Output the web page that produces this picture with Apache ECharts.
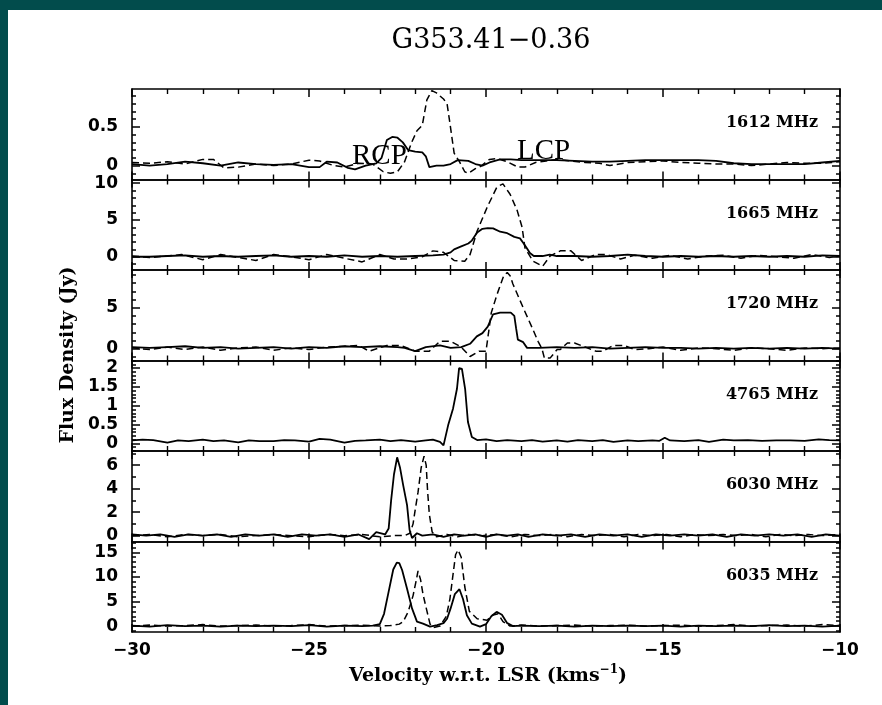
<!DOCTYPE html>
<html>
<head>
<meta charset="utf-8">
<title>G353.41-0.36</title>
<script src="https://cdn.jsdelivr.net/npm/echarts@6/dist/echarts.min.js"></script>
<style>
html, body { margin: 0; padding: 0; background: #fff; }
#chart { width: 882px; height: 705px; }
</style>
</head>
<body>
<div id="chart"></div>
<script>
// velocity (km/s), flux density (Jy)
var rcp1612 = [[-30,0.02],[-29.5,0.0],[-29,0.02],[-28.5,0.05],[-28,0.03],[-27.5,0.0],[-27,0.04],[-26.5,0.02],[-26,0.01],[-25.5,0.02],[-25,-0.02],[-24.7,-0.02],[-24.5,0.05],[-24.2,0.04],[-23.9,-0.03],[-23.7,-0.05],[-23.4,0.0],[-23.1,0.03],[-22.95,0.1],[-22.8,0.33],[-22.65,0.37],[-22.5,0.36],[-22.35,0.3],[-22.2,0.2],[-22.0,0.18],[-21.8,0.17],[-21.7,0.12],[-21.6,-0.02],[-21.4,0.0],[-21.2,0.0],[-21.0,0.02],[-20.8,0.07],[-20.5,0.06],[-20.3,0.02],[-20.1,0.0],[-19.9,0.04],[-19.6,0.08],[-19.3,0.08],[-19.0,0.07],[-18.5,0.07],[-18.0,0.07],[-17.5,0.06],[-17,0.05],[-16.5,0.05],[-16,0.06],[-15.5,0.07],[-15,0.07],[-14.5,0.07],[-14,0.07],[-13.5,0.06],[-13,0.03],[-12.5,0.02],[-12,0.02],[-11.5,0.02],[-11,0.02],[-10.5,0.04],[-10,0.06]];
var lcp1612 = [[-30,0.04],[-29.5,0.03],[-29,0.05],[-28.5,0.02],[-28,0.08],[-27.7,0.08],[-27.4,-0.03],[-27,-0.02],[-26.5,0.02],[-26,0.0],[-25.5,0.02],[-25,0.07],[-24.7,0.06],[-24.3,0.0],[-24,-0.02],[-23.6,0.03],[-23.2,0.02],[-22.9,-0.08],[-22.7,-0.1],[-22.5,-0.08],[-22.3,0.05],[-22.1,0.3],[-21.95,0.45],[-21.8,0.52],[-21.67,0.85],[-21.53,0.97],[-21.4,0.94],[-21.2,0.86],[-21.1,0.8],[-21.02,0.55],[-20.9,0.16],[-20.75,0.05],[-20.6,-0.08],[-20.5,-0.1],[-20.3,-0.04],[-20.15,-0.01],[-19.9,0.08],[-19.7,0.09],[-19.4,0.05],[-19.1,-0.02],[-18.9,-0.02],[-18.6,0.04],[-18.3,0.06],[-18,0.08],[-17.6,0.06],[-17.2,0.04],[-16.8,0.03],[-16.5,0.0],[-16,0.04],[-15.5,0.05],[-15,0.06],[-14.5,0.04],[-14,0.03],[-13.5,0.02],[-13,0.02],[-12.5,0.0],[-12,0.02],[-11.5,0.04],[-11,0.03],[-10.5,0.03],[-10,0.05]];

var rcp1665 = [[-30,0],[-29.5,0.0],[-29,0.1],[-28.5,0.2],[-28,0.0],[-27.5,0.1],[-27,0.0],[-26.5,0.1],[-26,0.2],[-25.5,0.0],[-25,0.1],[-24.5,0.0],[-24,0.2],[-23.5,0.0],[-23,0.1],[-22.5,0.0],[-22,0.1],[-21.5,0.2],[-21.2,0.3],[-21.0,0.6],[-20.9,1.0],[-20.7,1.4],[-20.5,1.8],[-20.4,2.2],[-20.25,3.3],[-20.1,3.8],[-19.95,3.9],[-19.8,3.85],[-19.6,3.4],[-19.4,3.2],[-19.2,2.7],[-19.04,2.5],[-18.95,1.9],[-18.85,1.2],[-18.76,0.5],[-18.65,0.1],[-18.4,0.1],[-18.2,0.3],[-18,0.1],[-17.5,0.1],[-17,0.0],[-16.5,0.1],[-16,0.3],[-15.5,0.1],[-15,0.0],[-14.5,0.1],[-14,0.0],[-13.5,0.1],[-13,0.0],[-12.5,0.1],[-12,0.0],[-11.5,0.1],[-11,0.0],[-10.5,0.2],[-10,0.1]];
var lcp1665 = [[-30,0.1],[-29.5,-0.1],[-29,0.1],[-28.6,0.3],[-28,-0.4],[-27.5,0.3],[-27,-0.1],[-26.5,-0.5],[-26,0.3],[-25.5,0.0],[-25,-0.4],[-24.5,0.3],[-24,-0.2],[-23.5,-0.7],[-23,0.3],[-22.6,-0.3],[-22.2,-0.3],[-21.8,0.0],[-21.5,0.8],[-21.2,0.6],[-20.9,-0.5],[-20.6,-0.6],[-20.45,0.3],[-20.25,3.5],[-19.97,6.7],[-19.69,9.5],[-19.52,9.9],[-19.32,8.5],[-19.12,6.3],[-18.98,4.0],[-18.9,1.2],[-18.67,-0.6],[-18.4,-1.3],[-18.19,0.1],[-17.9,0.8],[-17.6,0.8],[-17.3,-0.5],[-16.9,0.3],[-16.6,0.3],[-16.2,-0.3],[-15.8,0.2],[-15.3,-0.2],[-14.8,0.2],[-14.3,-0.3],[-13.8,0.1],[-13.3,0.2],[-12.8,-0.2],[-12.3,0.2],[-11.8,0.0],[-11.3,-0.2],[-10.8,0.3],[-10.3,-0.1],[-10,0.1]];

var rcp1720 = [[-30,0.2],[-29.5,0.1],[-29,0.2],[-28.5,0.3],[-28,0.1],[-27.5,0.2],[-27,0.0],[-26.5,0.1],[-26,0.2],[-25.5,0.0],[-25,0.2],[-24.5,0.1],[-24,0.3],[-23.5,0.2],[-23,0.3],[-22.5,0.2],[-22.3,0.1],[-22.0,-0.3],[-21.7,0.2],[-21.3,0.4],[-21.0,0.1],[-20.7,0.2],[-20.45,0.6],[-20.26,1.5],[-20.1,1.9],[-19.95,2.7],[-19.8,4.2],[-19.6,4.4],[-19.3,4.4],[-19.2,4.0],[-19.15,2.5],[-19.1,1.1],[-18.95,0.8],[-18.84,0.1],[-18.5,0.1],[-18.0,0.2],[-17.5,0.1],[-17.0,0.2],[-16.5,0.0],[-16.0,0.1],[-15.5,0.2],[-15,0.1],[-14.5,0.1],[-14,0.0],[-13.5,0.1],[-13,0.0],[-12.5,0.1],[-12,0.0],[-11.5,0.1],[-11,0.0],[-10.5,0.1],[-10,0.0]];
var lcp1720 = [[-30,0.1],[-29.5,-0.1],[-29,0.2],[-28.5,-0.1],[-28,0.2],[-27.5,-0.2],[-27,0.1],[-26.5,0.2],[-26,-0.2],[-25.5,0.1],[-25,-0.1],[-24.5,0.2],[-24,0.3],[-23.6,0.4],[-23.3,-0.3],[-22.8,0.4],[-22.4,0.4],[-22,-0.3],[-21.6,-0.3],[-21.3,0.9],[-21.0,0.9],[-20.7,0.2],[-20.45,-0.95],[-20.2,-0.3],[-20.0,-0.3],[-19.85,4.4],[-19.69,6.6],[-19.5,8.9],[-19.4,9.3],[-19.32,8.9],[-19.24,7.9],[-18.95,5.0],[-18.67,2.3],[-18.53,0.9],[-18.42,0.0],[-18.35,-1.15],[-18.19,-1.15],[-17.99,-0.1],[-17.9,-0.1],[-17.7,0.7],[-17.5,0.7],[-17.2,0.2],[-16.9,-0.3],[-16.7,-0.3],[-16.4,0.4],[-16.1,0.4],[-15.8,-0.1],[-15.4,0.0],[-15,0.2],[-14.5,-0.2],[-14,0.1],[-13.5,0.0],[-13,-0.2],[-12.5,0.1],[-12,0.0],[-11.5,-0.2],[-11,0.1],[-10.5,0.0],[-10,0.1]];

var rcp4765 = [[-30,0.08],[-29.7,0.1],[-29.4,0.09],[-29.0,0.02],[-28.7,0.08],[-28.4,0.06],[-28.0,0.1],[-27.7,0.06],[-27.4,0.08],[-27.0,0.03],[-26.7,0.08],[-26.4,0.06],[-26.0,0.06],[-25.7,0.09],[-25.4,0.08],[-25.0,0.05],[-24.7,0.12],[-24.4,0.1],[-24.0,0.02],[-23.7,0.07],[-23.4,0.08],[-23.0,0.1],[-22.7,0.06],[-22.4,0.09],[-22.0,0.05],[-21.7,0.08],[-21.5,0.1],[-21.3,0.04],[-21.2,-0.05],[-21.07,0.48],[-20.93,0.93],[-20.82,1.45],[-20.76,2.0],[-20.68,1.98],[-20.59,1.45],[-20.51,0.57],[-20.4,0.17],[-20.25,0.09],[-20,0.11],[-19.7,0.06],[-19.4,0.09],[-19.0,0.06],[-18.7,0.09],[-18.4,0.05],[-18.0,0.08],[-17.7,0.05],[-17.4,0.09],[-17.0,0.06],[-16.7,0.09],[-16.4,0.04],[-16.0,0.08],[-15.7,0.06],[-15.3,0.08],[-15.1,0.07],[-14.95,0.15],[-14.8,0.08],[-14.4,0.06],[-14.0,0.09],[-13.7,0.04],[-13.3,0.1],[-13.0,0.08],[-12.6,0.09],[-12.2,0.07],[-11.8,0.08],[-11.4,0.08],[-11.0,0.07],[-10.6,0.11],[-10.3,0.09],[-10,0.08]];

var rcp6030 = [[-30,0.1],[-29.6,0.0],[-29.2,0.1],[-28.8,-0.1],[-28.4,0.1],[-28,0.0],[-27.6,0.1],[-27.2,-0.1],[-26.8,0.1],[-26.4,0.0],[-26,0.1],[-25.6,-0.1],[-25.2,0.1],[-24.8,0.0],[-24.4,0.1],[-24,-0.1],[-23.6,0.1],[-23.3,-0.3],[-23.1,0.3],[-22.85,0.1],[-22.75,0.6],[-22.68,3.0],[-22.6,5.2],[-22.51,6.66],[-22.43,5.8],[-22.34,4.3],[-22.23,2.6],[-22.16,0.5],[-22.09,-0.2],[-21.95,0.2],[-21.8,0.0],[-21.5,0.1],[-21.2,-0.1],[-20.9,0.1],[-20.6,0.0],[-20.3,0.1],[-20,-0.1],[-19.7,0.1],[-19.4,0.0],[-19.1,0.1],[-18.8,-0.1],[-18.4,0.1],[-18,0.0],[-17.6,0.1],[-17.2,-0.1],[-16.8,0.1],[-16.4,0.0],[-16,0.1],[-15.6,-0.1],[-15.2,0.1],[-14.8,0.0],[-14.4,0.1],[-14,0.0],[-13.6,0.1],[-13.2,-0.1],[-12.8,0.1],[-12.4,0.0],[-12,0.1],[-11.6,0.0],[-11.2,0.1],[-10.8,-0.1],[-10.4,0.1],[-10,0.0]];
var lcp6030 = [[-30,0.0],[-29.5,0.1],[-29,-0.1],[-28.5,0.1],[-28,0.0],[-27.5,0.1],[-27,-0.1],[-26.5,0.0],[-26,0.1],[-25.5,0.0],[-25,-0.1],[-24.5,0.1],[-24,0.0],[-23.5,0.1],[-23,-0.1],[-22.6,0.0],[-22.3,0.0],[-22.15,0.2],[-22.06,1.0],[-22.0,2.2],[-21.92,3.7],[-21.83,5.8],[-21.75,6.75],[-21.69,6.0],[-21.65,3.8],[-21.6,1.8],[-21.52,0.3],[-21.4,-0.1],[-21.1,0.1],[-20.8,-0.1],[-20.5,0.1],[-20.1,0.0],[-19.7,0.1],[-19.3,-0.1],[-18.9,0.1],[-18.5,0.0],[-18.1,0.1],[-17.7,-0.1],[-17.3,0.1],[-16.9,0.0],[-16.5,0.1],[-16.1,-0.1],[-15.7,0.1],[-15.3,0.0],[-14.9,0.1],[-14.5,-0.1],[-14.1,0.1],[-13.7,0.0],[-13.3,0.1],[-12.9,0.0],[-12.5,0.1],[-12.1,-0.1],[-11.7,0.1],[-11.3,0.0],[-10.9,0.1],[-10.5,0.0],[-10,0.1]];

var rcp6035 = [[-30,0.1],[-29.5,-0.1],[-29,0.2],[-28.5,0.0],[-28,0.1],[-27.5,-0.1],[-27,0.1],[-26.5,0.0],[-26,0.1],[-25.5,0.0],[-25,0.2],[-24.5,-0.1],[-24,0.1],[-23.5,0.0],[-23.2,0.1],[-23.0,0.4],[-22.88,2.5],[-22.75,7.0],[-22.62,11.5],[-22.52,12.9],[-22.45,12.8],[-22.37,11.4],[-22.23,7.6],[-22.09,3.6],[-21.95,0.9],[-21.78,0.5],[-21.58,-0.1],[-21.38,0.2],[-21.2,0.6],[-21.1,1.5],[-21.0,3.6],[-20.88,6.5],[-20.75,7.5],[-20.65,5.5],[-20.54,2.2],[-20.4,0.5],[-20.17,-0.1],[-20.0,0.4],[-19.85,2.0],[-19.7,2.9],[-19.55,2.3],[-19.4,0.6],[-19.24,0.0],[-19,0.1],[-18.5,0.0],[-18,0.1],[-17.5,-0.1],[-17,0.1],[-16.5,0.0],[-16,0.1],[-15.5,0.0],[-15,0.1],[-14.5,-0.1],[-14,0.1],[-13.5,0.0],[-13,0.1],[-12.5,0.0],[-12,0.2],[-11.5,0.0],[-11,0.1],[-10.5,-0.1],[-10,0.1]];
var lcp6035 = [[-30,0.0],[-29.5,0.2],[-29,0.0],[-28.5,0.1],[-28,0.3],[-27.5,0.0],[-27,0.1],[-26.5,0.2],[-26,0.0],[-25.5,0.1],[-25,0.3],[-24.5,0.0],[-24,0.1],[-23.5,0.2],[-23,0.0],[-22.7,0.1],[-22.45,0.4],[-22.34,0.9],[-22.2,2.9],[-22.06,6.2],[-21.98,9.0],[-21.92,11.2],[-21.85,9.5],[-21.78,6.5],[-21.7,4.0],[-21.58,0.4],[-21.48,-0.3],[-21.3,0.0],[-21.12,2.0],[-21.02,5.5],[-20.94,10.0],[-20.86,14.5],[-20.79,15.5],[-20.7,14.0],[-20.6,8.0],[-20.47,3.0],[-20.25,1.5],[-19.97,1.2],[-19.82,2.2],[-19.66,2.5],[-19.52,0.9],[-19.32,0.0],[-19,0.2],[-18.5,0.0],[-18,0.1],[-17.5,0.2],[-17,0.0],[-16.5,0.1],[-16,0.2],[-15.5,0.0],[-15,0.1],[-14.5,0.2],[-14,0.0],[-13.5,0.1],[-13,0.3],[-12.5,0.0],[-12,0.1],[-11.5,0.2],[-11,0.0],[-10.5,0.3],[-10,0.1]];

// panel names, y ranges and tick steps
var freqNames = ['1612 MHz', '1665 MHz', '1720 MHz', '4765 MHz', '6030 MHz', '6035 MHz'];
var yMin = [-0.18, -1.8, -1.44, -0.2, -0.5, -1.2];
var yMax = [0.99, 10.5, 9.6, 2.2, 7.2, 17.2];
var yMajorStep = [0.5, 5, 5, 0.5, 2, 5];
var yMinorStep = [0.1, 1, 1, 0.1, 1, 1];

var spectra = [
    [rcp1612, lcp1612],
    [rcp1665, lcp1665],
    [rcp1720, lcp1720],
    [rcp4765],
    [rcp6030, lcp6030],
    [rcp6035, lcp6035]
];

var chart = echarts.init(document.getElementById('chart'));

var panelTop = 89, panelH = 90.5, plotLeft = 132, plotRight = 42;
var black = '#000';
var font = 'DejaVu Sans';
var serif = 'DejaVu Serif';

function minusSign(v) {
    return (v < 0 ? '\u2212' : '') + Math.abs(v);
}
function round6(v) {
    return Math.round(v * 1e6) / 1e6;
}

var grids = [], xAxes = [], yAxes = [], series = [], graphics = [];

// tick-only grid: spans the multiples of `step` that fall inside panel i,
// so the axis starts its ticks at a multiple of the interval
function addTickGrid(i, step, len, withLabels) {
    var lo = round6(Math.ceil(yMin[i] / step - 1e-9) * step);
    var hi = round6(Math.floor(yMax[i] / step + 1e-9) * step);
    var scale = panelH / (yMax[i] - yMin[i]);
    var top = panelTop + i * panelH + (yMax[i] - hi) * scale;
    var g = grids.length;
    grids.push({ left: plotLeft, right: plotRight, top: top, height: (hi - lo) * scale });
    xAxes.push({ type: 'value', gridIndex: g, show: false, min: -30, max: -10 });
    ['left', 'right'].forEach(function (pos) {
        yAxes.push({
            type: 'value', gridIndex: g, position: pos,
            min: lo, max: hi, interval: step,
            axisLine: { show: false, onZero: false },
            axisTick: { show: true, inside: true, length: len, lineStyle: { color: black, width: 1.5 } },
            splitLine: { show: false },
            axisLabel: {
                show: withLabels && pos === 'left', margin: 14, color: black,
                fontFamily: font, fontWeight: 'bold', fontSize: 17,
                formatter: function (v) { return String(round6(v)); }
            }
        });
    });
}

for (var i = 0; i < 6; i++) {
    // the framed panel that holds the spectra
    grids.push({ left: plotLeft, right: plotRight, top: panelTop + i * panelH, height: panelH });
    var xIdx = xAxes.length, yIdx = yAxes.length, gIdx = grids.length - 1;

    ['bottom', 'top'].forEach(function (pos) {
        var showLabel = (pos === 'bottom' && i === 5);
        xAxes.push({
            type: 'value', gridIndex: gIdx, position: pos,
            min: -30, max: -10, interval: 5,
            axisLine: { show: true, onZero: false, lineStyle: { color: black, width: 1.6 } },
            axisTick: { show: true, inside: true, length: 8, lineStyle: { color: black, width: 1.5 } },
            minorTick: { show: true, splitNumber: 5, length: 5, lineStyle: { color: black, width: 1.4 } },
            splitLine: { show: false },
            axisLabel: {
                show: showLabel, margin: 10, color: black,
                fontFamily: font, fontWeight: 'bold', fontSize: 17,
                formatter: minusSign
            }
        });
    });
    ['left', 'right'].forEach(function (pos) {
        yAxes.push({
            type: 'value', gridIndex: gIdx, position: pos,
            min: yMin[i], max: yMax[i],
            axisLine: { show: true, onZero: false, lineStyle: { color: black, width: 1.6 } },
            axisTick: { show: false },
            splitLine: { show: false },
            axisLabel: { show: false }
        });
    });

    spectra[i].forEach(function (d, k) {
        series.push({
            type: 'line', xAxisIndex: xIdx, yAxisIndex: yIdx,
            data: d, symbol: 'none', showSymbol: false,
            lineStyle: { color: black, width: k === 0 ? 1.8 : 1.5, type: k === 0 ? 'solid' : [7, 4] },
            animation: false
        });
    });

    addTickGrid(i, yMajorStep[i], 8, true);
    addTickGrid(i, yMinorStep[i], 4, false);

    graphics.push({
        type: 'text', x: 818, y: panelTop + i * panelH + 34,
        style: { text: freqNames[i], fill: black, font: 'bold 16px ' + serif, textAlign: 'right', textVerticalAlign: 'middle' }
    });
}

// teal frame of the scanned page
graphics.push({ type: 'rect', shape: { x: 0, y: 0, width: 882, height: 10 }, style: { fill: '#024c4c' } });
graphics.push({ type: 'rect', shape: { x: 0, y: 0, width: 8, height: 705 }, style: { fill: '#024c4c' } });

// RCP / LCP annotations in the top panel
graphics.push({ type: 'text', x: 352, y: 156, style: { text: 'RCP', fill: black, font: '29px "Liberation Serif"', textVerticalAlign: 'middle' } });
graphics.push({ type: 'text', x: 517, y: 151, style: { text: 'LCP', fill: black, font: '29px "Liberation Serif"', textVerticalAlign: 'middle' } });

// axis titles
graphics.push({
    type: 'text', x: 68, y: 355, rotation: Math.PI / 2,
    style: { text: 'Flux Density (Jy)', fill: black, font: 'bold 19px ' + serif, textAlign: 'center', textVerticalAlign: 'middle' }
});
graphics.push({
    type: 'text', x: 488, y: 676,
    style: {
        text: '{a|Velocity w.r.t. LSR (kms}{s|\u22121}{a|)}',
        textAlign: 'center', textVerticalAlign: 'middle',
        rich: {
            a: { fontFamily: serif, fontWeight: 'bold', fontSize: 19, lineHeight: 24, fill: black },
            s: { fontFamily: serif, fontWeight: 'bold', fontSize: 12, lineHeight: 12, verticalAlign: 'top', fill: black }
        }
    }
});

chart.setOption({
    backgroundColor: '#fff',
    animation: false,
    title: {
        text: 'G353.41\u22120.36', left: 486, top: 22, textAlign: 'center',
        textStyle: { fontFamily: serif, fontWeight: 'normal', fontSize: 27, color: black }
    },
    grid: grids,
    xAxis: xAxes,
    yAxis: yAxes,
    series: series,
    graphic: graphics
});
</script>
</body>
</html>
